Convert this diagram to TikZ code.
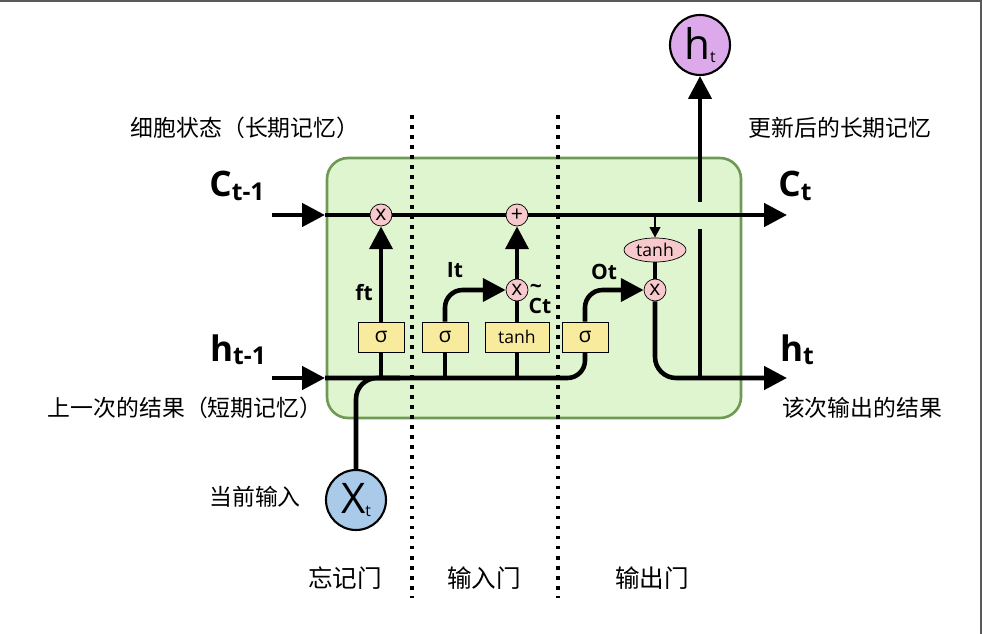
\documentclass[tikz,border=0pt]{standalone}
\usepackage{fontspec}
\setmainfont{Open Sans}
\newfontfamily\cjk{Noto Sans CJK SC}
\usetikzlibrary{arrows.meta,shapes.geometric}
\definecolor{boxg}{HTML}{DFF5CF}
\definecolor{boxgd}{HTML}{6E9A55}
\definecolor{op}{HTML}{F7C9CC}
\definecolor{gate}{HTML}{F8EB9E}
\definecolor{xin}{HTML}{A9CBE9}
\definecolor{hout}{HTML}{DCAAEA}
\begin{document}
\begin{tikzpicture}[x=0.02cm,y=-0.02cm,
  line/.style={line width=2.6pt},
  arr/.style={line width=2.6pt,-{Triangle[length=13pt,width=13pt]}},
  opc/.style={circle,draw,fill=op,minimum size=22*0.02cm,inner sep=0pt,font=\fontsize{12}{12}\selectfont},
  gt/.style={draw,fill=gate,minimum height=30*0.02cm,inner sep=1pt,font=\large},
  cj/.style={font=\cjk\fontsize{13}{13}\selectfont},
  big/.style={font=\bfseries\fontsize{20}{20}\selectfont},
  lab/.style={font=\bfseries\fontsize{12}{12}\selectfont},
  dots/.style={line width=2.2pt,dash pattern=on 2.2pt off 3.5pt}]
\useasboundingbox (0,0) rectangle (982,634);
\draw[gray!70!black,line width=2pt] (0,0) -- (982,0);
\draw[gray!70!black,line width=1.5pt] (981,0) -- (981,634);
\node[draw=boxgd,fill=boxg,line width=1.5pt,rounded corners=12pt,minimum width=414*0.02cm,minimum height=260*0.02cm] (cell) at (534,288) {};
\draw[dots] (412,115) -- (412,598);
\draw[dots] (558,115) -- (558,598);
% nodes
\node[opc] (m1) at (381,215) {x};
\node[opc] (p1) at (517,215) {+};
\node[opc] (m2) at (517,290) {x};
\node[opc] (m3) at (655,290) {x};
\node[ellipse,draw,fill=op,minimum width=62*0.02cm,minimum height=24*0.02cm,inner sep=0pt,font=\normalsize] (th) at (655,250) {tanh};
\node[gt,minimum width=46*0.02cm] (s1) at (381,337) {σ};
\node[gt,minimum width=46*0.02cm] (s2) at (445,337) {σ};
\node[gt,minimum width=64*0.02cm,font=\normalsize] (tg) at (517,337) {tanh};
\node[gt,minimum width=46*0.02cm] (s3) at (585,337) {σ};
\node[circle,draw,line width=1.2pt,fill=xin,minimum size=60*0.02cm,inner sep=0pt] (x) at (356,500) {\fontsize{24}{24}\selectfont X\raisebox{-2pt}{\small t}};
\node[circle,draw,line width=1.2pt,fill=hout,minimum size=60*0.02cm,inner sep=0pt] (ho) at (700,45) {\fontsize{24}{24}\selectfont h\raisebox{-2pt}{\small t}};
\coordinate (cin) at (272,215); \coordinate (cl) at (325,215); \coordinate (cout) at (787,215);
\coordinate (hin) at (272,378); \coordinate (hl) at (325,378); \coordinate (hout) at (787,378);
% cell state
\draw[arr] (cin) -- (cl);
\draw[line] (cl) -- (m1);
\draw[line] (m1) -- (p1);
\draw[arr] (p1) -- (cout);
% hidden
\draw[arr] (hin) -- (hl);
\draw[line,rounded corners=10pt] (hl) -- (585,378) -- (s3.south);
\draw[line,rounded corners=12pt] (x.north) -- (356,378) -- (400,378);
\draw[line] (s1.south) -- (381,378);
\draw[line] (s2.south) -- (445,378);
\draw[line] (tg.south) -- (517,378);
% gates
\draw[arr] (s1.north) -- (m1.south);
\draw[arr,rounded corners=10pt] (s2.north) -- (445,290) -- (m2.west);
\draw[line] (tg.north) -- (m2.south);
\draw[arr] (m2.north) -- (p1.south);
\draw[arr,rounded corners=10pt] (s3.north) -- (585,290) -- (m3.west);
\draw[line width=1.2pt,-{Triangle[length=6pt,width=6pt]}] (655,215) -- (th.north);
\draw[line] (th.south) -- (m3.north);
\draw[arr,rounded corners=12pt] (m3.south) -- (655,378) -- (hout);
\draw[line] (700,378) -- (700,229);
\draw[arr] (700,202) -- (ho.south);
% labels
\node[lab] at (364,293) {ft};
\node[lab] at (455,270) {It};
\node[lab] at (604,272) {Ot};
\node[lab] at (540,306) {Ct};
\node[lab,inner sep=0pt] at (536,289) {\textasciitilde};
\node[big] at (237,186) {C\raisebox{-2pt}{\fontsize{14}{14}\selectfont t-1}};
\node[big] at (238,350) {h\raisebox{-2pt}{\fontsize{14}{14}\selectfont t-1}};
\node[big] at (795,186) {C\raisebox{-2pt}{\fontsize{14}{14}\selectfont t}};
\node[big] at (797,350) {h\raisebox{-2pt}{\fontsize{14}{14}\selectfont t}};
\node[cj] at (245,128) {细胞状态（长期记忆）};
\node[cj] at (840,128) {更新后的长期记忆};
\node[cj] at (185,408) {上一次的结果（短期记忆）};
\node[cj] at (862,408) {该次输出的结果};
\node[cj] at (255,497) {当前输入};
\node[cj,font=\cjk\fontsize{14}{14}\selectfont] at (345,578) {忘记门};
\node[cj,font=\cjk\fontsize{14}{14}\selectfont] at (484,578) {输入门};
\node[cj,font=\cjk\fontsize{14}{14}\selectfont] at (652,578) {输出门};
\end{tikzpicture}
\end{document}
